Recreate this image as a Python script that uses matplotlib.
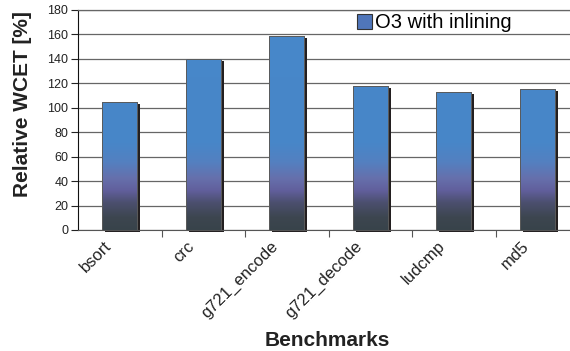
import numpy as np
import matplotlib
matplotlib.use('Agg')
import matplotlib.pyplot as plt
from matplotlib.colors import LinearSegmentedColormap
from matplotlib.patches import Patch
import matplotlib.transforms as mtransforms

benchmarks = ['bsort', 'crc', 'g721_encode', 'g721_decode', 'ludcmp', 'md5']
wcet_rel = [105, 140, 159, 118, 113, 115]
series_name = 'O3 with inlining'
y_ticks = [0, 20, 40, 60, 80, 100, 120, 140, 160, 180]

plt.rcParams['font.family'] = ['Liberation Sans', 'DejaVu Sans']

W, H = 570, 351
fig = plt.figure(figsize=(W / 100, H / 100), dpi=100)
# axes run a bit past the right edge, like the cropped original
ax = fig.add_axes([78 / W, (H - 230) / H, 501 / W, 220 / H])

# vertical gradient: dark slate at the bottom, purple band, blue on top
stops = [(0.0, '#38434a'), (10 / 180, '#3d4650'), (22 / 180, '#4b4f6e'),
         (32 / 180, '#615f9c'), (42 / 180, '#6670ac'), (55 / 180, '#5480c0'),
         (70 / 180, '#4886c8'), (1.0, '#4788ca')]
cmap = LinearSegmentedColormap.from_list('bargrad', stops)
grad = np.linspace(0, 1, 256).reshape(-1, 1)

x = np.arange(len(benchmarks))
bw = 0.42
sx = 3 / 83.5   # shadow offset, data units
sy = 2 / (220 / 180)

ax.bar(x + sx, wcet_rel, width=bw, bottom=-sy, color='#231f20',
       zorder=2, clip_on=False)
bars = ax.bar(x, wcet_rel, width=bw, facecolor='none', edgecolor='#5a5a5a',
              linewidth=0.7, zorder=4)
for b in bars:
    im = ax.imshow(grad, extent=(b.get_x(), b.get_x() + b.get_width(), 0, 180),
                   origin='lower', aspect='auto', cmap=cmap, zorder=3)
    im.set_clip_path(b)

ax.set_xlim(-0.5, len(benchmarks) - 0.5)
ax.set_ylim(0, 180)
ax.set_yticks(y_ticks)
ax.tick_params(axis='y', labelsize=9, length=5, width=0.8, colors='#222222', pad=2)

# tick marks at category boundaries, labels at centres
ax.set_xticks(x[:-1] + 0.5)
ax.set_xticklabels([])
ax.tick_params(axis='x', which='major', length=5, width=0.8, color='#555555')
ax.set_xticks(x, minor=True)
ax.set_xticklabels(benchmarks, minor=True, rotation=45, ha='right',
                   va='center', rotation_mode='anchor', fontsize=12,
                   color='#222222')
ax.tick_params(axis='x', which='minor', length=0, pad=10)
off = mtransforms.ScaledTranslation(-11 / 100, 0, fig.dpi_scale_trans)
for lab in ax.get_xticklabels(minor=True):
    lab.set_transform(lab.get_transform() + off)

ax.yaxis.grid(True, color='#666666', linewidth=0.9)
ax.set_axisbelow(True)
ax.spines['right'].set_visible(False)
ax.spines['top'].set_color('#666666')
ax.spines['top'].set_linewidth(0.9)
ax.spines['bottom'].set_color('#555555')
ax.spines['left'].set_color('#111111')

fig.text(23 / W, 1 - 104 / H, 'Relative WCET [%]', rotation=90, ha='center',
         va='center', fontsize=15, fontweight='bold', color='#222222')
fig.text(327 / W, 1 - 340 / H, 'Benchmarks', ha='center', va='center',
         fontsize=15, fontweight='bold', color='#222222')

handle = Patch(facecolor='#5076ba', edgecolor='#333333', linewidth=0.8)
ax.legend([handle], [series_name], loc='center left',
          bbox_to_anchor=(357 / W, 1 - 23 / H), bbox_transform=fig.transFigure,
          frameon=False, fontsize=14.5, handlelength=0.75, handleheight=0.75,
          handletextpad=0.15, borderpad=0, borderaxespad=0)

fig.savefig('out.png', dpi=100)
